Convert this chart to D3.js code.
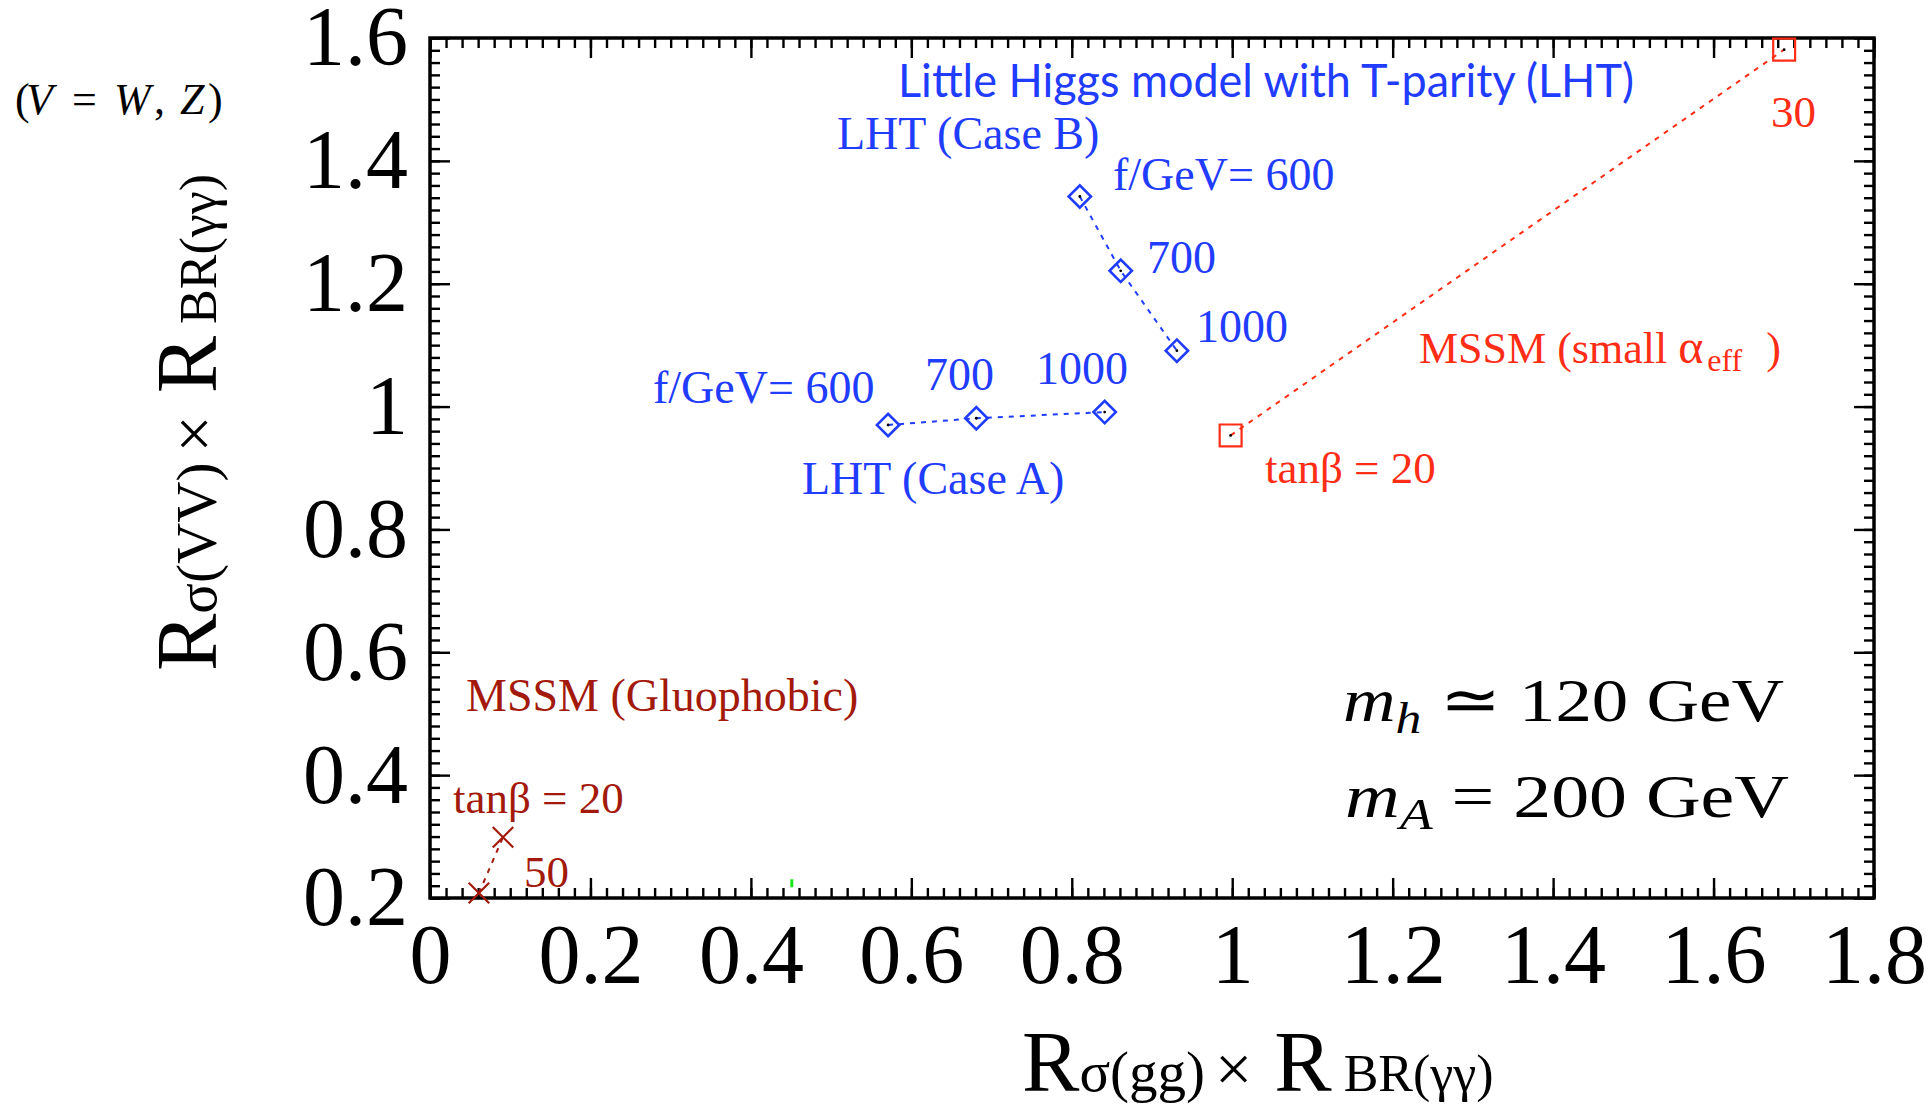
<!DOCTYPE html>
<html>
<head>
<meta charset="utf-8">
<script src="https://cdn.jsdelivr.net/npm/d3@7"></script>
<style>
  body { margin: 0; background: #fff; }
  svg { display: block; }
</style>
</head>
<body>
<svg id="chart" width="1932" height="1109"></svg>
<script>
// values
const caseAx = [0.571, 0.681, 0.841];
const caseAy = [0.970, 0.981, 0.991];
const caseBx = [0.810, 0.861, 0.931];
const caseBy = [1.342, 1.221, 1.091];
const smallAlphaX = [0.998, 1.688];
const smallAlphaY = [0.953, 1.581];
const gluophobicX = [0.061, 0.091];
const gluophobicY = [0.208, 0.299];
const strayX = [0.451];
const strayY = [0.224];

const xTicks = [0, 0.2, 0.4, 0.6, 0.8, 1, 1.2, 1.4, 1.6, 1.8];
const xTickLabels = ["0", "0.2", "0.4", "0.6", "0.8", "1", "1.2", "1.4", "1.6", "1.8"];
const yTicks = [0.2, 0.4, 0.6, 0.8, 1, 1.2, 1.4, 1.6];
const yTickLabels = ["0.2", "0.4", "0.6", "0.8", "1", "1.2", "1.4", "1.6"];

const blue = "#1f3cff", red = "#ff2d16", darkRed = "#a3190b";
const serif = "'Liberation Serif', 'Times New Roman', serif";

const svg = d3.select("#chart");
const plotL = 430, plotR = 1874, plotT = 38, plotB = 898;

const x = d3.scaleLinear().domain([0, 1.8]).range([plotL, plotR]);
const y = d3.scaleLinear().domain([0.2, 1.6]).range([plotB, plotT]);

const pts = (xs, ys) => xs.map((v, i) => ({ x: v, y: ys[i] }));

// minor ticks every 0.02, majors every 0.2, all pointing inward
const xMinor = d3.range(0, 1.8001, 0.02).map(v => +v.toFixed(2));
const yMinor = d3.range(0.2, 1.6001, 0.02).map(v => +v.toFixed(2));

const sides = [
  { pos: `translate(0,${plotB})`, make: () => d3.axisBottom(x), minor: xMinor, major: xTicks, lab: xTickLabels, pad: 25 },
  { pos: `translate(0,${plotT})`, make: () => d3.axisTop(x), minor: xMinor, major: xTicks },
  { pos: `translate(${plotL},0)`, make: () => d3.axisLeft(y), minor: yMinor, major: yTicks, lab: yTickLabels, pad: 22 },
  { pos: `translate(${plotR},0)`, make: () => d3.axisRight(y), minor: yMinor, major: yTicks }
];

sides.forEach(o => {
  const g = svg.append("g").attr("transform", o.pos);
  g.append("g").call(o.make().tickValues(o.minor).tickSize(-10).tickFormat(""));
  g.append("g").call(o.make().tickValues(o.major).tickSize(-20).tickPadding(o.pad || 0)
    .tickFormat(o.lab ? (d, i) => o.lab[i] : ""));
  g.selectAll(".domain").remove();
  g.selectAll("line").attr("stroke", "#000").attr("stroke-width", 2.4);
  g.selectAll("text")
    .attr("font-family", serif)
    .attr("font-size", 84)
    .attr("fill", "#000");
});

// frame
svg.append("rect")
  .attr("x", plotL).attr("y", plotT)
  .attr("width", plotR - plotL).attr("height", plotB - plotT)
  .attr("fill", "none").attr("stroke", "#000").attr("stroke-width", 3.5);

// connecting lines
const line = d3.line().x(d => x(d.x)).y(d => y(d.y));
const series = [
  { data: pts(caseAx, caseAy), color: blue, shape: "diamond" },
  { data: pts(caseBx, caseBy), color: blue, shape: "diamond" },
  { data: pts(smallAlphaX, smallAlphaY), color: red, shape: "square" },
  { data: pts(gluophobicX, gluophobicY), color: darkRed, shape: "cross" }
];

series.forEach(s => {
  svg.append("path")
    .attr("d", line(s.data))
    .attr("fill", "none")
    .attr("stroke", s.color)
    .attr("stroke-width", 2)
    .attr("stroke-dasharray", "5,6");
});

const crossType = {
  draw(ctx, size) {
    const r = Math.sqrt(size) / 2;
    ctx.moveTo(-r, -r); ctx.lineTo(r, r);
    ctx.moveTo(-r, r); ctx.lineTo(r, -r);
  }
};
const shapes = {
  diamond: { type: d3.symbolSquare, size: 250, rot: 45, width: 2.6 },
  square: { type: d3.symbolSquare, size: 480, rot: 0, width: 2.2 },
  cross: { type: crossType, size: 420, rot: 0, width: 2.2 }
};

series.forEach(s => {
  const sh = shapes[s.shape];
  const g = svg.append("g");
  g.selectAll("path").data(s.data).enter().append("path")
    .attr("transform", d => `translate(${x(d.x)},${y(d.y)}) rotate(${sh.rot})`)
    .attr("d", d3.symbol().type(sh.type).size(sh.size))
    .attr("fill", "none")
    .attr("stroke", s.color)
    .attr("stroke-width", sh.width);
  if (s.shape !== "cross") {
    g.selectAll("circle").data(s.data).enter().append("circle")
      .attr("cx", d => x(d.x)).attr("cy", d => y(d.y))
      .attr("r", 1.4).attr("fill", "#000");
  }
});

// small green mark near the bottom axis
svg.selectAll(".stray").data(pts(strayX, strayY)).enter().append("rect")
  .attr("class", "stray")
  .attr("x", d => x(d.x) - 1.5).attr("y", d => y(d.y) - 4)
  .attr("width", 3).attr("height", 8)
  .attr("fill", "#19e619");

// annotations
function label(txt, px, py, size, color, family) {
  return svg.append("text")
    .attr("x", px).attr("y", py)
    .attr("font-family", family || serif)
    .attr("font-size", size)
    .attr("fill", color)
    .text(txt);
}

label("Little Higgs model with T-parity (LHT)", 898, 97, 46, blue, "Lato, 'Open Sans', sans-serif")
  .attr("textLength", 736).attr("lengthAdjust", "spacingAndGlyphs");
label("LHT (Case B)", 837, 149, 46, blue);
label("f/GeV= 600", 1113, 190, 46, blue);
label("700", 1147, 273, 46, blue);
label("1000", 1196, 342, 46, blue);
label("f/GeV= 600", 653, 403, 46, blue);
label("700", 925, 390, 46, blue);
label("1000", 1036, 384, 46, blue);
label("LHT (Case A)", 802, 494, 46, blue);

const sa = label("MSSM (small ", 1419, 363, 44, red);
sa.append("tspan").attr("font-size", 48).text("α");
sa.append("tspan").attr("font-size", 32).attr("dy", 8).attr("dx", 4).text("eff");
sa.append("tspan").attr("dy", -8).attr("dx", 24).text(")");
label("tanβ = 20", 1265, 483, 45, red);
label("30", 1771, 127, 45, red);

label("MSSM (Gluophobic)", 466, 711, 46, darkRed);
label("tanβ = 20", 453, 813, 45, darkRed);
label("50", 524, 887, 45, darkRed);

// mass conditions
const mh = label("", 1343, 721, 62, "#000")
  .attr("textLength", 441).attr("lengthAdjust", "spacingAndGlyphs");
mh.append("tspan").attr("font-style", "italic").text("m");
mh.append("tspan").attr("font-style", "italic").attr("font-size", 44).attr("dy", 12).text("h");
mh.append("tspan").attr("dy", -12).text(" ≃ 120 GeV");
const mA = label("", 1345, 817, 62, "#000")
  .attr("textLength", 444).attr("lengthAdjust", "spacingAndGlyphs");
mA.append("tspan").attr("font-style", "italic").text("m");
mA.append("tspan").attr("font-style", "italic").attr("font-size", 44).attr("dy", 12).text("A");
mA.append("tspan").attr("dy", -12).text(" = 200 GeV");

// (V = W, Z) with the wide math spacing of the original
const vw = label("", 15, 114, 44, "#000");
[["(", 15, false], ["V", 26, true], ["=", 72, false], ["W", 114, true],
 [",", 154, false], ["Z", 180, true], [")", 208, false]].forEach(([t, px, it]) => {
  vw.append("tspan").attr("x", px).attr("font-style", it ? "italic" : null).text(t);
});

// axis titles
function axisTitle(g, sub1, sub2) {
  g.attr("font-family", serif).attr("fill", "#000");
  g.append("tspan").attr("font-size", 86).text("R");
  g.append("tspan").attr("font-size", 57).text(sub1);
  g.append("tspan").attr("font-size", 66).attr("dx", 10).text("×");
  g.append("tspan").attr("font-size", 86).attr("dx", 22).text("R");
  g.append("tspan").attr("font-size", 52).attr("dx", 12).text(sub2);
}
axisTitle(svg.append("text").attr("x", 1022).attr("y", 1091), "σ(gg)", "BR(γγ)");
axisTitle(svg.append("text").attr("transform", "translate(216,671) rotate(-90)"), "σ(VV)", "BR(γγ)");
</script>
</body>
</html>
